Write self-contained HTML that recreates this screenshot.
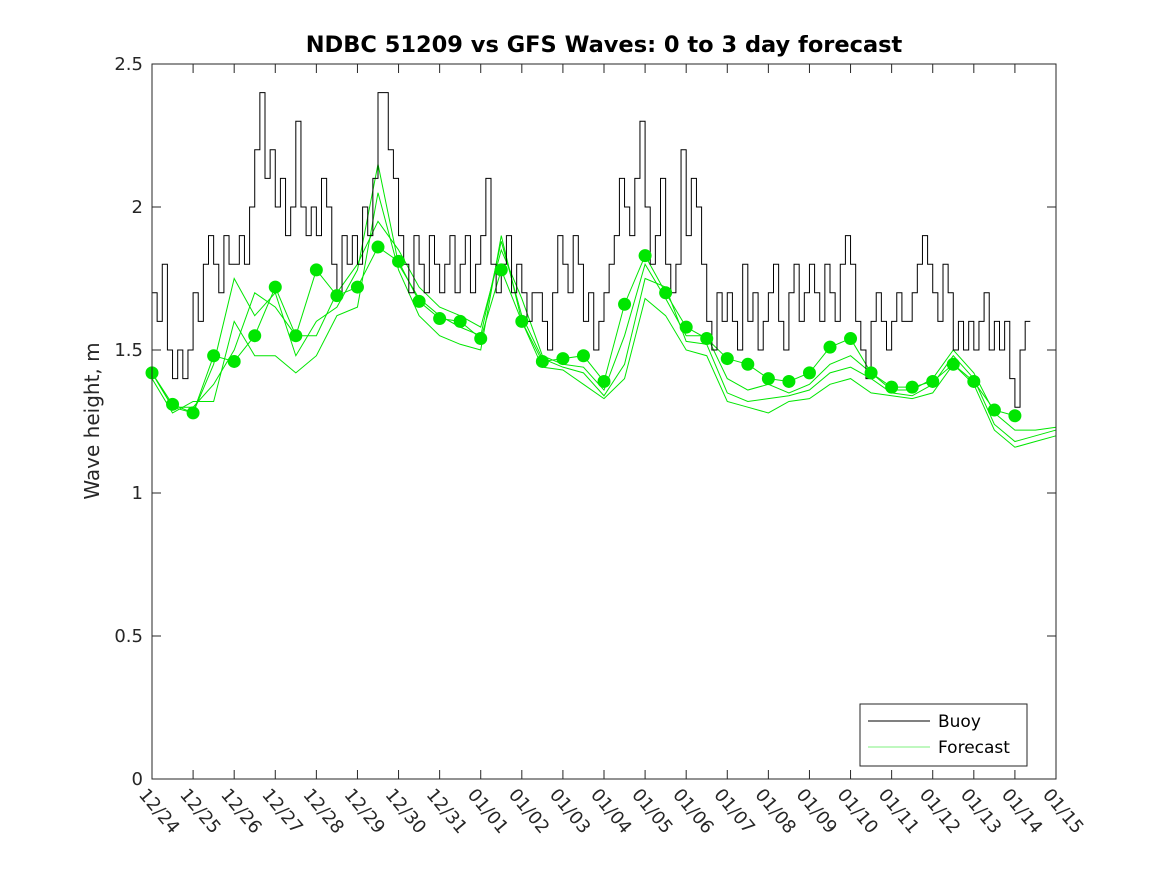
<!DOCTYPE html>
<html><head><meta charset="utf-8"><style>
body{margin:0;background:#fff;}
svg text{font-family:"DejaVu Sans","Liberation Sans",sans-serif;fill:#262626;}
</style></head><body>
<svg id="chart" width="1167" height="875" xmlns="http://www.w3.org/2000/svg">
<rect width="1167" height="875" fill="#fff"/>
<text x="604" y="52" text-anchor="middle" font-size="22.5" font-weight="bold" style="fill:#000">NDBC 51209 vs GFS Waves: 0 to 3 day forecast</text>
<text transform="translate(99,421) rotate(-90)" text-anchor="middle" font-size="20">Wave height, m</text>
<g id="forecast"></g><g id="buoy"></g><g id="dots"></g><g id="axes"></g>
<g>
<rect x="860" y="704" width="167" height="62" fill="#fff" stroke="#262626" stroke-width="1"/>
<line x1="868" y1="721" x2="930" y2="721" stroke="#000" stroke-width="1"/>
<text x="938" y="727" font-size="17" style="fill:#000">Buoy</text>
<line x1="868" y1="747" x2="930" y2="747" stroke="#00e600" stroke-width="0.6"/>
<text x="938" y="753" font-size="17" style="fill:#000">Forecast</text>
</g>
</svg>
<script>
const xTicks=["12/24","12/25","12/26","12/27","12/28","12/29","12/30","12/31","01/01","01/02","01/03","01/04","01/05","01/06","01/07","01/08","01/09","01/10","01/11","01/12","01/13","01/14","01/15"];
const yTicks=[0,0.5,1,1.5,2,2.5];
const dotValues=[1.42,1.31,1.28,1.48,1.46,1.55,1.72,1.55,1.78,1.69,1.72,1.86,1.81,1.67,1.61,1.60,1.54,1.78,1.60,1.46,1.47,1.48,1.39,1.66,1.83,1.70,1.58,1.54,1.47,1.45,1.40,1.39,1.42,1.51,1.54,1.42,1.37,1.37,1.39,1.45,1.39,1.29,1.27];
const fcA=[1.42,1.30,1.30,1.38,1.50,1.70,1.65,1.55,1.55,1.70,1.80,1.95,1.85,1.72,1.65,1.62,1.58,1.85,1.68,1.48,1.45,1.44,1.36,1.55,1.80,1.68,1.55,1.55,1.40,1.36,1.38,1.35,1.38,1.45,1.48,1.42,1.36,1.36,1.40,1.50,1.42,1.28,1.22,1.22,1.23];
const fcB=[1.40,1.28,1.32,1.32,1.60,1.48,1.48,1.42,1.48,1.62,1.65,2.05,1.78,1.62,1.55,1.52,1.50,1.90,1.60,1.44,1.43,1.38,1.33,1.40,1.68,1.62,1.50,1.48,1.32,1.30,1.28,1.32,1.33,1.38,1.40,1.35,1.34,1.33,1.35,1.45,1.38,1.22,1.16,1.18,1.20];
const fcC=[1.42,1.30,1.28,1.45,1.75,1.62,1.70,1.48,1.60,1.65,1.78,2.15,1.80,1.68,1.62,1.58,1.55,1.88,1.62,1.47,1.44,1.42,1.34,1.45,1.75,1.72,1.53,1.52,1.35,1.32,1.33,1.34,1.36,1.42,1.44,1.40,1.35,1.34,1.38,1.48,1.40,1.24,1.18,1.20,1.22];
const buoyValues=[1.7,1.6,1.8,1.5,1.4,1.5,1.4,1.5, 1.7,1.6,1.8,1.9,1.8,1.7,1.9,1.8, 1.8,1.9,1.8,2.0,2.2,2.4,2.1,2.2, 2.0,2.1,1.9,2.0,2.3,2.0,1.9,2.0, 1.9,2.1,2.0,1.8,1.7,1.9,1.8,1.9, 1.8,2.0,1.9,2.1,2.4,2.4,2.2,2.1, 1.9,1.8,1.7,1.9,1.8,1.7,1.9,1.8, 1.7,1.8,1.9,1.7,1.8,1.9,1.7,1.8, 1.9,2.1,1.8,1.7,1.8,1.9,1.7,1.8, 1.7,1.6,1.7,1.7,1.6,1.5,1.7,1.9, 1.8,1.7,1.9,1.8,1.6,1.7,1.5,1.6, 1.7,1.8,1.9,2.1,2.0,1.9,2.1,2.3, 2.0,1.8,1.9,2.1,1.8,1.7,1.8,2.2, 1.9,2.1,2.0,1.8,1.6,1.5,1.7,1.6, 1.7,1.6,1.5,1.8,1.6,1.7,1.5,1.6, 1.7,1.8,1.6,1.5,1.7,1.8,1.6,1.7, 1.8,1.7,1.6,1.8,1.7,1.6,1.8,1.9, 1.8,1.6,1.5,1.4,1.6,1.7,1.6,1.5, 1.6,1.7,1.6,1.6,1.7,1.8,1.9,1.8, 1.7,1.6,1.8,1.7,1.5,1.6,1.5,1.6, 1.5,1.6,1.7,1.5,1.6,1.5,1.6,1.4, 1.3,1.5,1.6];
const X0=152,X1=1056,Y0=779,Y1=64;
const xs=d=>X0+(X1-X0)*d/22;
const ys=v=>Y0-(Y0-Y1)*v/2.5;
const NS="http://www.w3.org/2000/svg";
function mk(tag,parent,attrs){const e=document.createElementNS(NS,tag);for(const k in attrs)e.setAttribute(k,attrs[k]);parent.appendChild(e);return e;}
const fg=document.getElementById('forecast');
[fcA,fcB,fcC,dotValues].forEach((arr,i)=>{
  const p=mk('polyline',fg,{points:arr.map((v,j)=>xs(j*0.5)+','+ys(v)).join(' '),fill:'none',stroke:'#00e600','stroke-width':1});
  
  
});
const bg=document.getElementById('buoy');
let pts=[];buoyValues.forEach((v,j)=>{pts.push(xs(j*0.125)+','+ys(v));pts.push(xs((j+1)*0.125)+','+ys(v));});
const bl=mk('polyline',bg,{points:pts.join(' '),fill:'none',stroke:'#000','stroke-width':1});


const dg=document.getElementById('dots');
dotValues.forEach((v,j)=>{
  const c=mk('circle',dg,{cx:xs(j*0.5),cy:ys(v),r:6.5,fill:'#00e600'});
  
  
});
const ag=document.getElementById('axes');
const box=mk('rect',ag,{x:X0,y:Y1,width:X1-X0,height:Y0-Y1,fill:'none',stroke:'#262626','stroke-width':1});


yTicks.forEach(v=>{
  const y=ys(v);
  mk('line',ag,{x1:X0,x2:X0+9,y1:y,y2:y,stroke:'#262626'});
  mk('line',ag,{x1:X1,x2:X1-9,y1:y,y2:y,stroke:'#262626'});
  const t=mk('text',ag,{x:X0-9,y:y+6,'text-anchor':'end','font-size':18});
  t.textContent=String(v);
  
  
});
xTicks.forEach((s,i)=>{
  const x=xs(i);
  mk('line',ag,{x1:x,x2:x,y1:Y0,y2:Y0-9,stroke:'#262626'});
  mk('line',ag,{x1:x,x2:x,y1:Y1,y2:Y1+9,stroke:'#262626'});
  const t=mk('text',ag,{transform:`translate(${x-14},${Y0+16}) rotate(50)`,'font-size':18});
  t.textContent=s;
  
  
});
</script>
</body></html>
